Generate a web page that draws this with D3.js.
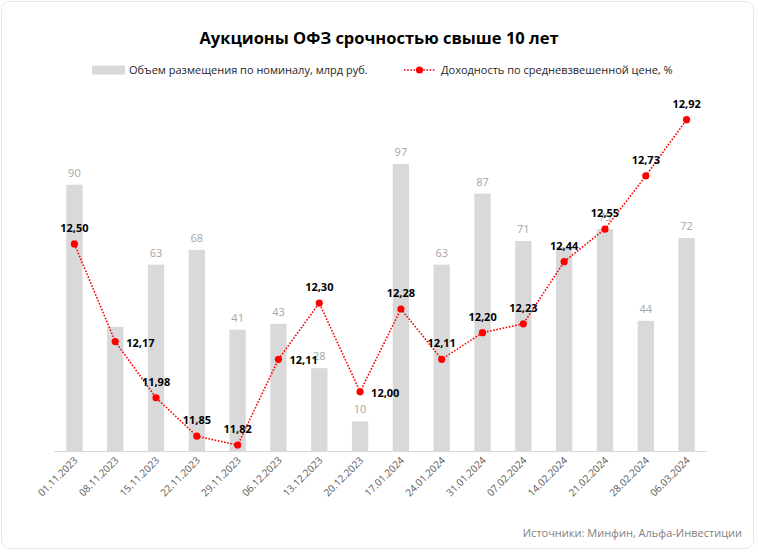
<!DOCTYPE html>
<html>
<head>
<meta charset="utf-8">
<script src="https://cdn.jsdelivr.net/npm/d3@7"></script>
<style>
  html, body { margin: 0; padding: 0; background: #fff; }
  svg { display: block; font-family: "Open Sans", sans-serif; }
</style>
</head>
<body>
<svg id="chart" width="758" height="553"></svg>
<script>
const dates = ["01.11.2023","08.11.2023","15.11.2023","22.11.2023","29.11.2023","06.12.2023","13.12.2023","20.12.2023","17.01.2024","24.01.2024","31.01.2024","07.02.2024","14.02.2024","21.02.2024","28.02.2024","06.03.2024"];
const volume = [90, 42, 63, 68, 41, 43, 28, 10, 97, 63, 87, 71, 69, 75, 44, 72];
const yieldPct = [12.50, 12.17, 11.98, 11.85, 11.82, 12.11, 12.30, 12.00, 12.28, 12.11, 12.20, 12.23, 12.44, 12.55, 12.73, 12.92];
const yieldLabelSide = ["top","right","top","top","top","right","top","right","top","top","top","top","top","top","top","top"];
const volumeLabelShown = [true, false, true, true, true, true, true, true, true, true, true, true, false, true, true, true];

const title = "Аукционы ОФЗ срочностью свыше 10 лет";
const legendBar = "Объем размещения по номиналу, млрд руб.";
const legendLine = "Доходность по средневзвешенной цене, %";
const source = "Источники: Минфин, Альфа-Инвестиции";

const fmt = v => v.toFixed(2).replace(".", ",");

const svg = d3.select("#chart");
const W = 758, H = 553;
const plot = { left: 54, right: 707, top: 96, bottom: 451 };

// frame
svg.append("rect").attr("x", 1.5).attr("y", 1.5).attr("width", W - 6).attr("height", H - 6)
  .attr("rx", 8).attr("fill", "#fff").attr("stroke", "#e8e8e8").attr("stroke-width", 1);

const x = d3.scaleBand().domain(dates).range([plot.left, plot.right]).paddingInner(0.6).paddingOuter(0.3);
const yBar = d3.scaleLinear().domain([0, 120]).range([plot.bottom, plot.top]);
const yLine = d3.scaleLinear().domain([11.8, 13.0]).range([plot.bottom, plot.top]);
const cx = d => x(d) + x.bandwidth() / 2;

// title
svg.append("text").attr("x", 379).attr("y", 44).attr("text-anchor", "middle")
  .attr("font-size", 16.5).attr("font-weight", "bold").attr("fill", "#000").text(title);

// legend
svg.append("rect").attr("x", 92).attr("y", 65.5).attr("width", 33).attr("height", 9).attr("fill", "#d9d9d9");
svg.append("text").attr("x", 129).attr("y", 74).attr("font-size", 11).attr("fill", "#262626").text(legendBar);
svg.append("line").attr("x1", 404).attr("x2", 435).attr("y1", 70).attr("y2", 70)
  .attr("stroke", "#ff0000").attr("stroke-width", 1.6).attr("stroke-dasharray", "1.6,1.6");
svg.append("circle").attr("cx", 419.5).attr("cy", 70).attr("r", 3.6).attr("fill", "#ff0000");
svg.append("text").attr("x", 441).attr("y", 74).attr("font-size", 11).attr("fill", "#262626").text(legendLine);

// bars
svg.append("g").selectAll("rect").data(dates).join("rect")
  .attr("x", d => x(d)).attr("width", x.bandwidth())
  .attr("y", (d, i) => yBar(volume[i])).attr("height", (d, i) => yBar(0) - yBar(volume[i]))
  .attr("fill", "#d9d9d9");

// axis
const xAxis = d3.axisBottom(x).tickSize(0).tickPadding(0);
const ax = svg.append("g").attr("transform", `translate(0,${plot.bottom})`).call(xAxis);
ax.select(".domain").attr("stroke", "#d9d9d9").attr("stroke-width", 1.2)
  .attr("d", `M${plot.left},0.5H${plot.right}`);
ax.selectAll(".tick text")
  .attr("font-family", "Open Sans, sans-serif").attr("font-size", 10).attr("fill", "#595959")
  .attr("text-anchor", "end").attr("dy", null).attr("y", 0)
  .attr("transform", "translate(4,10) rotate(-45)");

// bar labels
svg.append("g").selectAll("text").data(dates.filter((d, i) => volumeLabelShown[i])).join("text")
  .attr("x", d => cx(d)).attr("y", d => yBar(volume[dates.indexOf(d)]) - 8)
  .attr("text-anchor", "middle").attr("font-size", 11).attr("fill", "#a6a6a6")
  .text(d => volume[dates.indexOf(d)]);

// line
const line = d3.line().x((d, i) => cx(dates[i])).y(d => yLine(d));
svg.append("path").datum(yieldPct).attr("d", line).attr("fill", "none")
  .attr("stroke", "#ff0000").attr("stroke-width", 1.6).attr("stroke-dasharray", "1.6,1.6");
svg.append("g").selectAll("circle").data(yieldPct).join("circle")
  .attr("cx", (d, i) => cx(dates[i])).attr("cy", d => yLine(d)).attr("r", 3.6).attr("fill", "#ff0000");

// line labels
svg.append("g").selectAll("text").data(yieldPct).join("text")
  .attr("x", (d, i) => yieldLabelSide[i] === "right" ? cx(dates[i]) + 11 : cx(dates[i]))
  .attr("y", (d, i) => yieldLabelSide[i] === "right" ? yLine(d) + 5 : yLine(d) - 12)
  .attr("text-anchor", (d, i) => yieldLabelSide[i] === "right" ? "start" : "middle")
  .attr("font-size", 11).attr("font-weight", "bold").attr("fill", "#000")
  .text(d => fmt(d));

// source
svg.append("text").attr("x", 742).attr("y", 537).attr("text-anchor", "end")
  .attr("font-size", 11).attr("fill", "#7f7f7f").text(source);
</script>
</body>
</html>
